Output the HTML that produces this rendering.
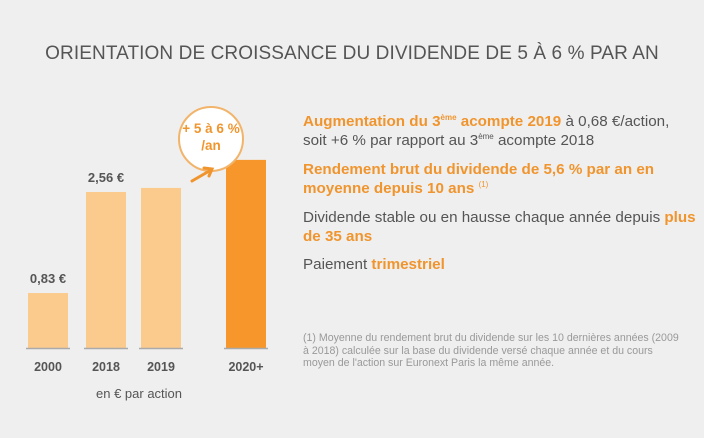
<!DOCTYPE html>
<html><head><meta charset="utf-8"><style>
body{margin:0;width:704px;height:438px;background:#efefef;font-family:"Liberation Sans",sans-serif;overflow:hidden;position:relative}
.t{position:absolute;white-space:nowrap}
.o{color:#f0952e;font-weight:bold}
.g{color:#555}
sup{font-size:8px;line-height:0;vertical-align:6px}
</style></head><body>
<div class="t" style="left:0;width:704px;text-align:center;top:43px;font-size:19px;color:#555;letter-spacing:0.1px">ORIENTATION DE CROISSANCE DU DIVIDENDE DE 5 À 6 % PAR AN</div>
<svg id="c" width="704" height="438" style="position:absolute;left:0;top:0"></svg>
<div class="t" style="left:96px;top:386px;font-size:13px;color:#555">en € par action</div>
<div class="t g" style="left:303px;top:112px;font-size:15.2px;line-height:19px"><span class="o">Augmentation du 3<sup>ème</sup> acompte 2019</span> à 0,68 €/action,<br>soit +6 % par rapport au 3<sup>ème</sup> acompte 2018</div>
<div class="t o" style="left:303px;top:160px;font-size:15.2px;line-height:19px">Rendement brut du dividende de 5,6 % par an en<br>moyenne depuis 10 ans <sup style="font-weight:normal">(1)</sup></div>
<div class="t g" style="left:303px;top:208px;font-size:15.2px;line-height:19px">Dividende stable ou en hausse chaque année depuis <span class="o">plus</span><br><span class="o">de 35 ans</span></div>
<div class="t g" style="left:303px;top:256px;font-size:15.2px">Paiement <span class="o">trimestriel</span></div>
<div class="t" style="left:303px;top:332px;font-size:10.6px;line-height:12.5px;color:#999">(1) Moyenne du rendement brut du dividende sur les 10 dernières années (2009<br>à 2018) calculée sur la base du dividende versé chaque année et du cours<br>moyen de l'action sur Euronext Paris la même année.</div>
<script>
const categories=["2000","2018","2019","2020+"];
const values=[0.83,2.56,2.63,3.11];
const valueLabels=["0,83 €","2,56 €","",""];
const ns="http://www.w3.org/2000/svg",svg=document.getElementById("c");
const base=348,xs=[28,86,141,226],bw=40;
function y(v){return base-(6.5+58.4*v);}
function mk(t,a){const e=document.createElementNS(ns,t);for(const k in a)e.setAttribute(k,a[k]);svg.appendChild(e);return e;}
categories.forEach((c,i)=>{
 const r=mk("rect",{x:xs[i],y:y(values[i]),width:bw,height:base-y(values[i]),fill:i==3?"#f7962b":"#fbcb8e"});
 
 
 const l=mk("line",{x1:xs[i]-2,x2:xs[i]+bw+2,y1:base+0.5,y2:base+0.5,stroke:"#aaa","stroke-width":1.5});
 const t=mk("text",{x:xs[i]+bw/2,y:base+23,"text-anchor":"middle","font-size":12.5,"font-weight":"bold",fill:"#555"});
 t.textContent=c;
 
 
 if(valueLabels[i]){const v=mk("text",{x:xs[i]+bw/2,y:y(values[i])-10,"text-anchor":"middle","font-size":13,"font-weight":"bold",fill:"#555"});
 v.textContent=valueLabels[i];
 
 }
});
const ci=mk("circle",{cx:211,cy:139,r:32,fill:"#fff",stroke:"#f2b46a","stroke-width":2});


[["+ 5 à 6 %",133],["/an",150]].forEach(([s,yy])=>{const t=mk("text",{x:211,y:yy,"text-anchor":"middle","font-size":13.5,"font-weight":"bold",fill:"#f0952e"});t.textContent=s;

});
const ar=mk("path",{d:"M192 181 L211 170 M204 168 L212 169 L209 176",stroke:"#f0952e","stroke-width":3,fill:"none","stroke-linecap":"round"});


</script>
</body></html>
